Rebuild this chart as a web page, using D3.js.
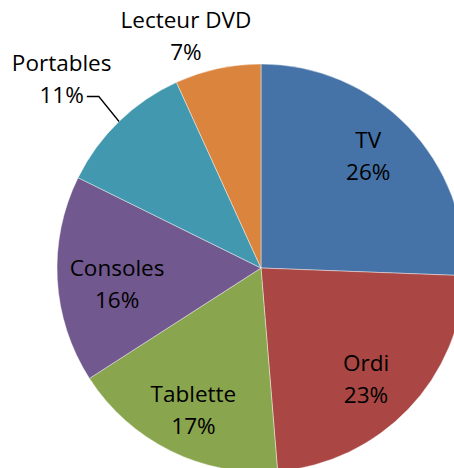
<!DOCTYPE html>
<html>
<head>
<meta charset="utf-8">
<script src="https://cdn.jsdelivr.net/npm/d3@7"></script>
<style>
  html, body { margin: 0; padding: 0; background: #fff; overflow: hidden; }
  svg { display: block; }
  text { font-family: "Open Sans", Lato, sans-serif; fill: #000; }
</style>
</head>
<body>
<svg id="chart" width="454" height="468"></svg>
<script>
// Data
const categories = ["TV", "Ordi", "Tablette", "Consoles", "Portables", "Lecteur DVD"];
const values = [25.6, 23.1, 17.2, 16.4, 10.9, 6.8];
const colors = ["#4573A7", "#AA4744", "#89A54E", "#71588F", "#4198AF", "#DB843D"];
// label placement: radius factor and angle shift (degrees) relative to slice mid-angle
const labelRadius = [0.76, 0.75, 0.77, 0.71, 1.345, 1.195];
const labelShift = [-2.3, 2.9, -0.8, -3.2, -2.5, -5.7];
const leader = [false, false, false, false, true, false];

const W = 454, H = 468;
const cx = 261, cy = 268, R = 204;
const fontSize = 22.5, lineGap = 32, capH = 15.5;

const svg = d3.select("#chart");
const g = svg.append("g").attr("transform", `translate(${cx},${cy})`);

const total = d3.sum(values);
const pie = d3.pie().sort(null).value(d => d.v)
  .startAngle(0).endAngle(2 * Math.PI);
const data = categories.map((c, i) => ({ c, v: values[i], i }));
const arcs = pie(data);
const arc = d3.arc().innerRadius(0).outerRadius(R);

g.selectAll("path.slice").data(arcs).join("path")
  .attr("class", "slice")
  .attr("d", arc)
  .attr("fill", d => colors[d.data.i])
  .attr("stroke", "#ffffff")
  .attr("stroke-opacity", 0.6)
  .attr("stroke-width", 0.7);

const pct = d3.format(".0%");

function polar(a, r) { return [Math.sin(a) * r, -Math.cos(a) * r]; }

arcs.forEach(d => {
  const i = d.data.i;
  const mid = (d.startAngle + d.endAngle) / 2;
  const a = mid + labelShift[i] * Math.PI / 180;
  const [x, y] = polar(a, labelRadius[i] * R);
  const t = g.append("text")
    .attr("text-anchor", "middle")
    .attr("font-size", fontSize);
  t.append("tspan").attr("x", x).attr("y", y - lineGap / 2 + capH / 2).text(d.data.c);
  t.append("tspan").attr("x", x).attr("y", y + lineGap / 2 + capH / 2)
    .text(pct(Math.round(d.data.v / total * 100) / 100));

  if (leader[i]) {
    const [ex, ey] = polar(mid, R);
    const w2 = t.select("tspan:nth-child(2)").node().getComputedTextLength();
    const sx = x + w2 / 2 + 3, sy = y + lineGap / 2 + 1;
    g.append("polyline")
      .attr("points", [[sx, sy], [sx + 12, sy], [ex, ey]].map(p => p.join(",")).join(" "))
      .attr("fill", "none")
      .attr("stroke", "#000")
      .attr("stroke-width", 1.3);
  }
});
</script>
</body>
</html>
